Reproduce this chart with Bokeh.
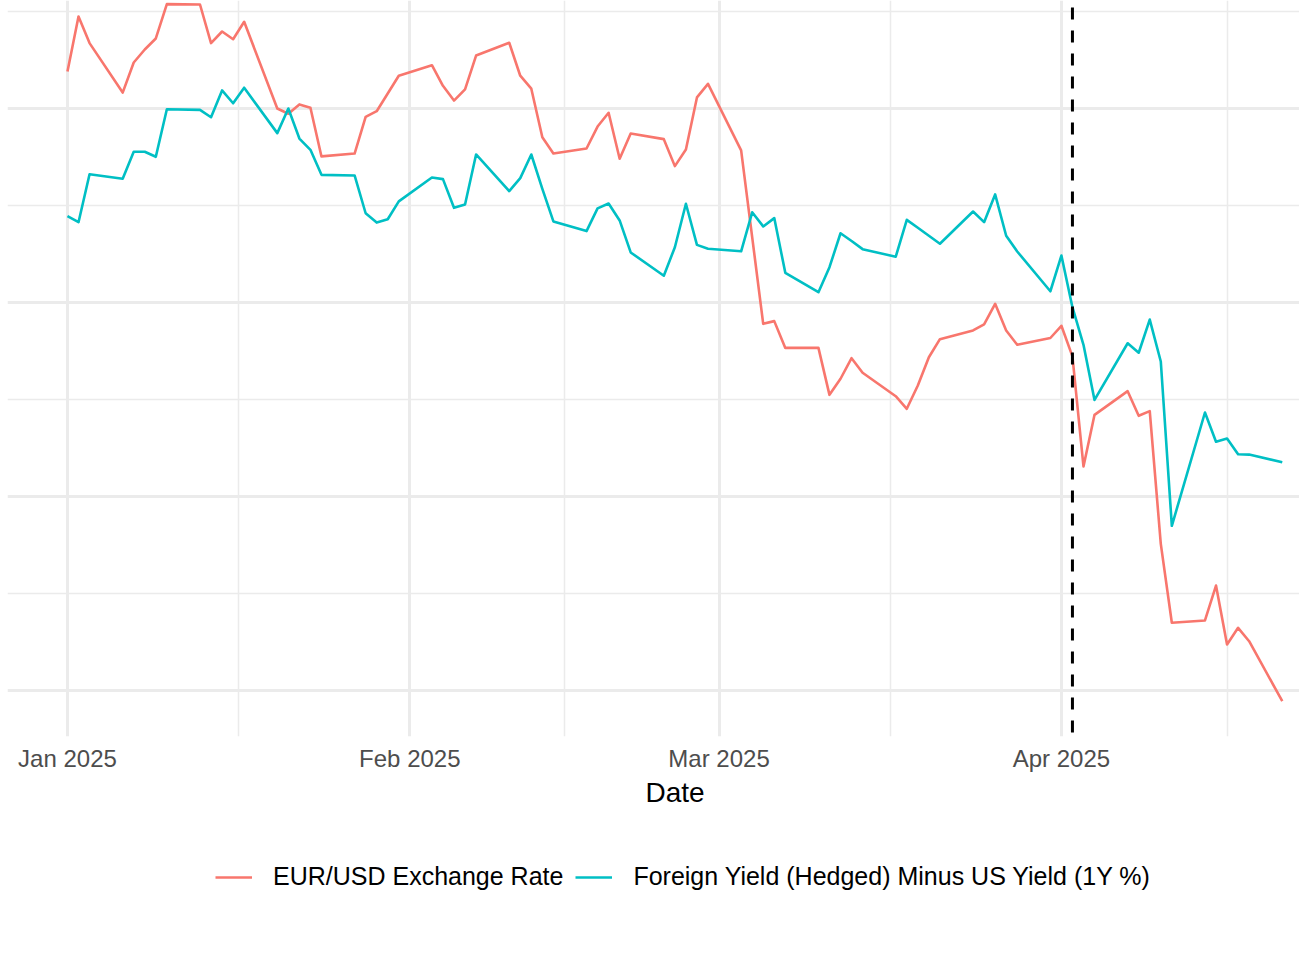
import pandas as pd
from bokeh.plotting import figure
from bokeh.layouts import column
from bokeh.models import (ColumnDataSource, FixedTicker, DatetimeTickFormatter, Range1d,
                          Span, Legend, LegendItem, Title)
from bokeh.embed import file_html
from bokeh.resources import INLINE

# ---------------- data ----------------
dates = [
    "2025-01-01", "2025-01-02", "2025-01-03", "2025-01-06", "2025-01-07", "2025-01-08",
    "2025-01-09", "2025-01-10", "2025-01-13", "2025-01-14", "2025-01-15", "2025-01-16",
    "2025-01-17", "2025-01-20", "2025-01-21", "2025-01-22", "2025-01-23", "2025-01-24",
    "2025-01-27", "2025-01-28", "2025-01-29", "2025-01-30", "2025-01-31",
    "2025-02-03", "2025-02-04", "2025-02-05", "2025-02-06", "2025-02-07", "2025-02-10",
    "2025-02-11", "2025-02-12", "2025-02-13", "2025-02-14", "2025-02-17", "2025-02-18",
    "2025-02-19", "2025-02-20", "2025-02-21", "2025-02-24", "2025-02-25", "2025-02-26",
    "2025-02-27", "2025-02-28",
    "2025-03-03", "2025-03-04", "2025-03-05", "2025-03-06", "2025-03-07", "2025-03-10",
    "2025-03-11", "2025-03-12", "2025-03-13", "2025-03-14", "2025-03-17", "2025-03-18",
    "2025-03-19", "2025-03-20", "2025-03-21", "2025-03-24", "2025-03-25", "2025-03-26",
    "2025-03-27", "2025-03-28", "2025-03-31",
    "2025-04-01", "2025-04-02", "2025-04-03", "2025-04-04", "2025-04-07", "2025-04-08",
    "2025-04-09", "2025-04-10", "2025-04-11", "2025-04-14", "2025-04-15", "2025-04-16",
    "2025-04-17", "2025-04-18", "2025-04-21",
]

eur_usd = [
    1.191, 1.474, 1.337, 1.082, 1.237, 1.304, 1.361, 1.538, 1.536, 1.337, 1.397, 1.357,
    1.447, 1.000, 0.973, 1.021, 1.004, 0.753, 0.768, 0.957, 0.986, 1.077, 1.169,
    1.223, 1.117, 1.041, 1.099, 1.273, 1.339, 1.169, 1.102, 0.852, 0.768, 0.794, 0.907,
    0.978, 0.741, 0.871, 0.842, 0.703, 0.789, 1.057, 1.127,
    0.784, 0.337, -0.110, -0.096, -0.234, -0.234, -0.476, -0.393, -0.287, -0.362, -0.483,
    -0.548, -0.428, -0.282, -0.189, -0.144, -0.113, -0.007, -0.144, -0.218, -0.183,
    -0.120, -0.278, -0.845, -0.579, -0.457, -0.584, -0.560, -1.244, -1.651, -1.639,
    -1.459, -1.763, -1.677, -1.746, -2.055,
]

yield_gap = [
    0.445, 0.414, 0.661, 0.638, 0.777, 0.777, 0.751, 0.996, 0.993, 0.955, 1.093, 1.027,
    1.107, 0.873, 1.000, 0.845, 0.787, 0.658, 0.655, 0.460, 0.412, 0.429, 0.521,
    0.644, 0.636, 0.488, 0.505, 0.763, 0.574, 0.641, 0.763, 0.586, 0.418, 0.368, 0.485,
    0.510, 0.423, 0.258, 0.138, 0.285, 0.509, 0.297, 0.277,
    0.264, 0.465, 0.392, 0.435, 0.153, 0.053, 0.182, 0.357, 0.317, 0.275, 0.236, 0.426,
    0.385, 0.344, 0.303, 0.469, 0.414, 0.557, 0.344, 0.263, 0.058,
    0.242, -0.024, -0.218, -0.502, -0.210, -0.259, -0.088, -0.304, -1.151, -0.567,
    -0.718, -0.701, -0.782, -0.784, -0.823,
]

series_labels = ["EUR/USD Exchange Rate", "Foreign Yield (Hedged) Minus US Yield (1Y %)"]
event_date = "2025-04-02"
month_breaks = ["2025-01-01", "2025-02-01", "2025-03-01", "2025-04-01", "2025-05-01"]
y_breaks = [-2, -1, 0, 1]
y_minor_breaks = [-1.5, -0.5, 0.5, 1.5]

# ---------------- styling ----------------
FONT = "Liberation Sans"
RED = "#F8766D"
CYAN = "#00BFC4"
GRID = "#EBEBEB"
DAY = 86400000.0
LW = 2.6


def ms(d):
    return pd.Timestamp(d).value / 1e6


src = ColumnDataSource(dict(date=pd.to_datetime(dates), eur=eur_usd, yld=yield_gap))

x_first = ms(dates[0])
x_range = Range1d(x_first - 5.43 * DAY, x_first + 111.56 * DAY)
y_range = Range1d(-2.2371, 1.5567)

p = figure(width=1299, height=826, x_axis_type="datetime", output_backend="svg",
           toolbar_location=None, tools="", x_range=x_range, y_range=y_range,
           min_border_left=7, min_border_right=0, min_border_top=0, min_border_bottom=90,
           background_fill_color="white", border_fill_color="white")
p.title.visible = False
p.outline_line_color = None

major = [ms(d) for d in month_breaks]
minor = [(a + b) / 2 for a, b in zip(major[:-1], major[1:])]
xt = FixedTicker(ticks=major, minor_ticks=minor)
p.xaxis.ticker = xt
p.xgrid.ticker = xt
fmt = "%b %Y"
p.xaxis.formatter = DatetimeTickFormatter(
    microseconds=fmt, milliseconds=fmt, seconds=fmt, minsec=fmt, minutes=fmt,
    hourmin=fmt, hours=fmt, days=fmt, months=fmt, years=fmt)

yt = FixedTicker(ticks=y_breaks, minor_ticks=y_minor_breaks)
p.yaxis.ticker = yt
p.ygrid.ticker = yt
p.yaxis.visible = False

p.grid.grid_line_color = GRID
p.grid.grid_line_width = 3
p.grid.minor_grid_line_color = GRID
p.grid.minor_grid_line_width = 1.5

ax = p.xaxis[0]
ax.axis_line_color = None
ax.major_tick_line_color = None
ax.minor_tick_line_color = None
ax.major_tick_out = 0
ax.major_tick_in = 0
ax.minor_tick_out = 0
ax.major_label_standoff = 8
ax.major_label_text_font = FONT
ax.major_label_text_font_size = "24px"
ax.major_label_text_color = "#4D4D4D"

p.line("date", "eur", source=src, line_color=RED, line_width=LW, line_join="round")
p.line("date", "yld", source=src, line_color=CYAN, line_width=LW, line_join="round")

p.add_layout(Span(location=ms(event_date), dimension="height", line_color="black",
                  line_width=3, line_dash="12 11", line_dash_offset=16))

date_title = Title(text="Date", align="left", offset=638, text_font=FONT,
                   text_font_size="28px", text_font_style="normal", text_color="black",
                   standoff=0)
p.add_layout(date_title, "below")

# ---------------- legend strip below the panel ----------------
leg = figure(width=1299, height=137, output_backend="svg", toolbar_location=None, tools="",
             x_range=Range1d(0, 1), y_range=Range1d(0, 1), x_axis_location=None,
             y_axis_location=None, min_border=0, background_fill_color="white",
             border_fill_color="white")
leg.outline_line_color = None
leg.grid.visible = False
# key-only renderers (their points sit outside the strip's visible range)
k1 = leg.line(x=[-2, -1], y=[-2, -2], line_color=RED, line_width=LW)
k2 = leg.line(x=[-2, -1], y=[-2, -2], line_color=CYAN, line_width=LW)

legend = Legend(
    items=[LegendItem(label=series_labels[0], renderers=[k1]),
           LegendItem(label=series_labels[1], renderers=[k2])],
    orientation="horizontal", location=(208, 72), glyph_width=37, glyph_height=20,
    label_standoff=21, spacing=12, padding=0, margin=0,
    border_line_color=None, background_fill_alpha=0,
    label_text_font=FONT, label_text_font_size="25px", label_text_color="black")
leg.add_layout(legend, "center")

layout = column(p, leg, spacing=0)
open("out.html", "w").write(file_html(layout, INLINE))
